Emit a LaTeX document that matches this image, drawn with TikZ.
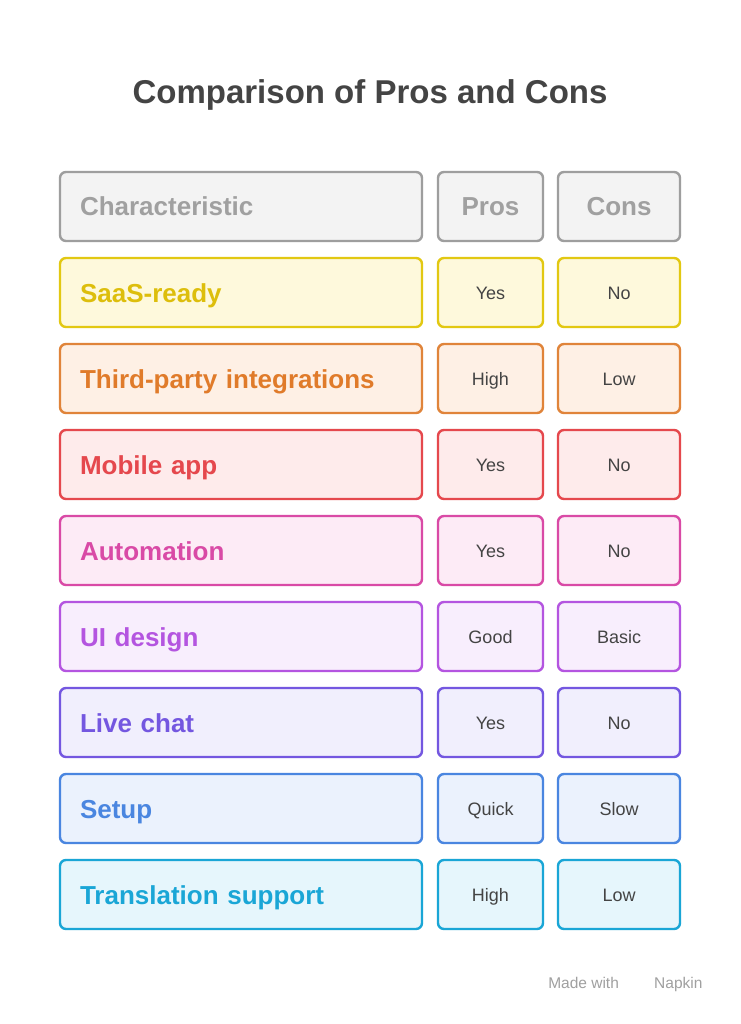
\documentclass[tikz,border=0pt]{standalone}
\usepackage{fontspec}
\setmainfont{Liberation Sans}
\definecolor{hdline}{HTML}{9E9E9E}
\definecolor{hdfill}{HTML}{F3F3F3}
\definecolor{hdtext}{HTML}{A0A0A0}
\definecolor{cellt}{HTML}{444444}
\definecolor{lnA}{HTML}{E2C812}\definecolor{fA}{HTML}{FEF9DC}\definecolor{tA}{HTML}{DDBE0C}
\definecolor{lnB}{HTML}{E0843A}\definecolor{fB}{HTML}{FEF0E5}\definecolor{tB}{HTML}{E07B2A}
\definecolor{lnC}{HTML}{E5484D}\definecolor{fC}{HTML}{FEEBEB}\definecolor{tC}{HTML}{E5484D}
\definecolor{lnD}{HTML}{D94AA6}\definecolor{fD}{HTML}{FDEBF6}\definecolor{tD}{HTML}{D94AA6}
\definecolor{lnE}{HTML}{B455E0}\definecolor{fE}{HTML}{F8EEFD}\definecolor{tE}{HTML}{B455E0}
\definecolor{lnF}{HTML}{7457E0}\definecolor{fF}{HTML}{F1EFFD}\definecolor{tF}{HTML}{7457E0}
\definecolor{lnG}{HTML}{4A86E0}\definecolor{fG}{HTML}{EBF2FD}\definecolor{tG}{HTML}{4A86E0}
\definecolor{lnH}{HTML}{1AA6D6}\definecolor{fH}{HTML}{E6F6FC}\definecolor{tH}{HTML}{1AA6D6}
\tikzset{
  cellbox/.style={draw=#1, line width=2.4pt, rounded corners=6pt, minimum height=69pt, inner sep=0pt},
  labelbox/.style={cellbox=#1, minimum width=362pt, text width=322pt, align=left, text height=25pt, text depth=6pt, font=\bfseries\fontsize{26}{30}\selectfont},
  bigval/.style={text height=25pt, text depth=6pt, font=\bfseries\fontsize{26}{30}\selectfont},
  prosbox/.style={cellbox=#1, minimum width=105pt, text height=17pt, text depth=4pt, font=\fontsize{18}{22}\selectfont},
  consbox/.style={cellbox=#1, minimum width=122pt, text height=17pt, text depth=4pt, font=\fontsize{18}{22}\selectfont},
}
\begin{document}
\begin{tikzpicture}[x=1pt,y=-1pt]
  \useasboundingbox[fill=white] (0,0) rectangle (740,1024);
  \node[font=\bfseries\fontsize{33}{38}\selectfont, text=cellt] (title) at (370,95) {Comparison of Pros and Cons};

  % header row
  \node[labelbox=hdline, fill=hdfill, text=hdtext] (char) at (241,206.5) {Characteristic};
  \node[prosbox=hdline, fill=hdfill, text=hdtext, bigval] (pros) at (490.5,206.5) {Pros};
  \node[consbox=hdline, fill=hdfill, text=hdtext, bigval] (cons) at (619,206.5) {Cons};

  % body rows
  \foreach \k/\c/\lab/\p/\n in {1/A/SaaS-ready/Yes/No, 2/B/Third-party integrations/High/Low,
      3/C/Mobile app/Yes/No, 4/D/Automation/Yes/No, 5/E/UI design/Good/Basic,
      6/F/Live chat/Yes/No, 7/G/Setup/Quick/Slow, 8/H/Translation support/High/Low} {
    \node[labelbox=ln\c, fill=f\c, text=t\c] (lab\k) at (241,206.5+86*\k) {\lab};
    \node[prosbox=ln\c, fill=f\c, text=cellt] (pro\k) at (490.5,206.5+86*\k) {\p};
    \node[consbox=ln\c, fill=f\c, text=cellt] (con\k) at (619,206.5+86*\k) {\n};
  }

  \node[anchor=east, text=hdtext, font=\fontsize{15.5}{18}\selectfont] (napkin) at (706,984) {Made with \quad\quad Napkin};
\end{tikzpicture}
\end{document}
